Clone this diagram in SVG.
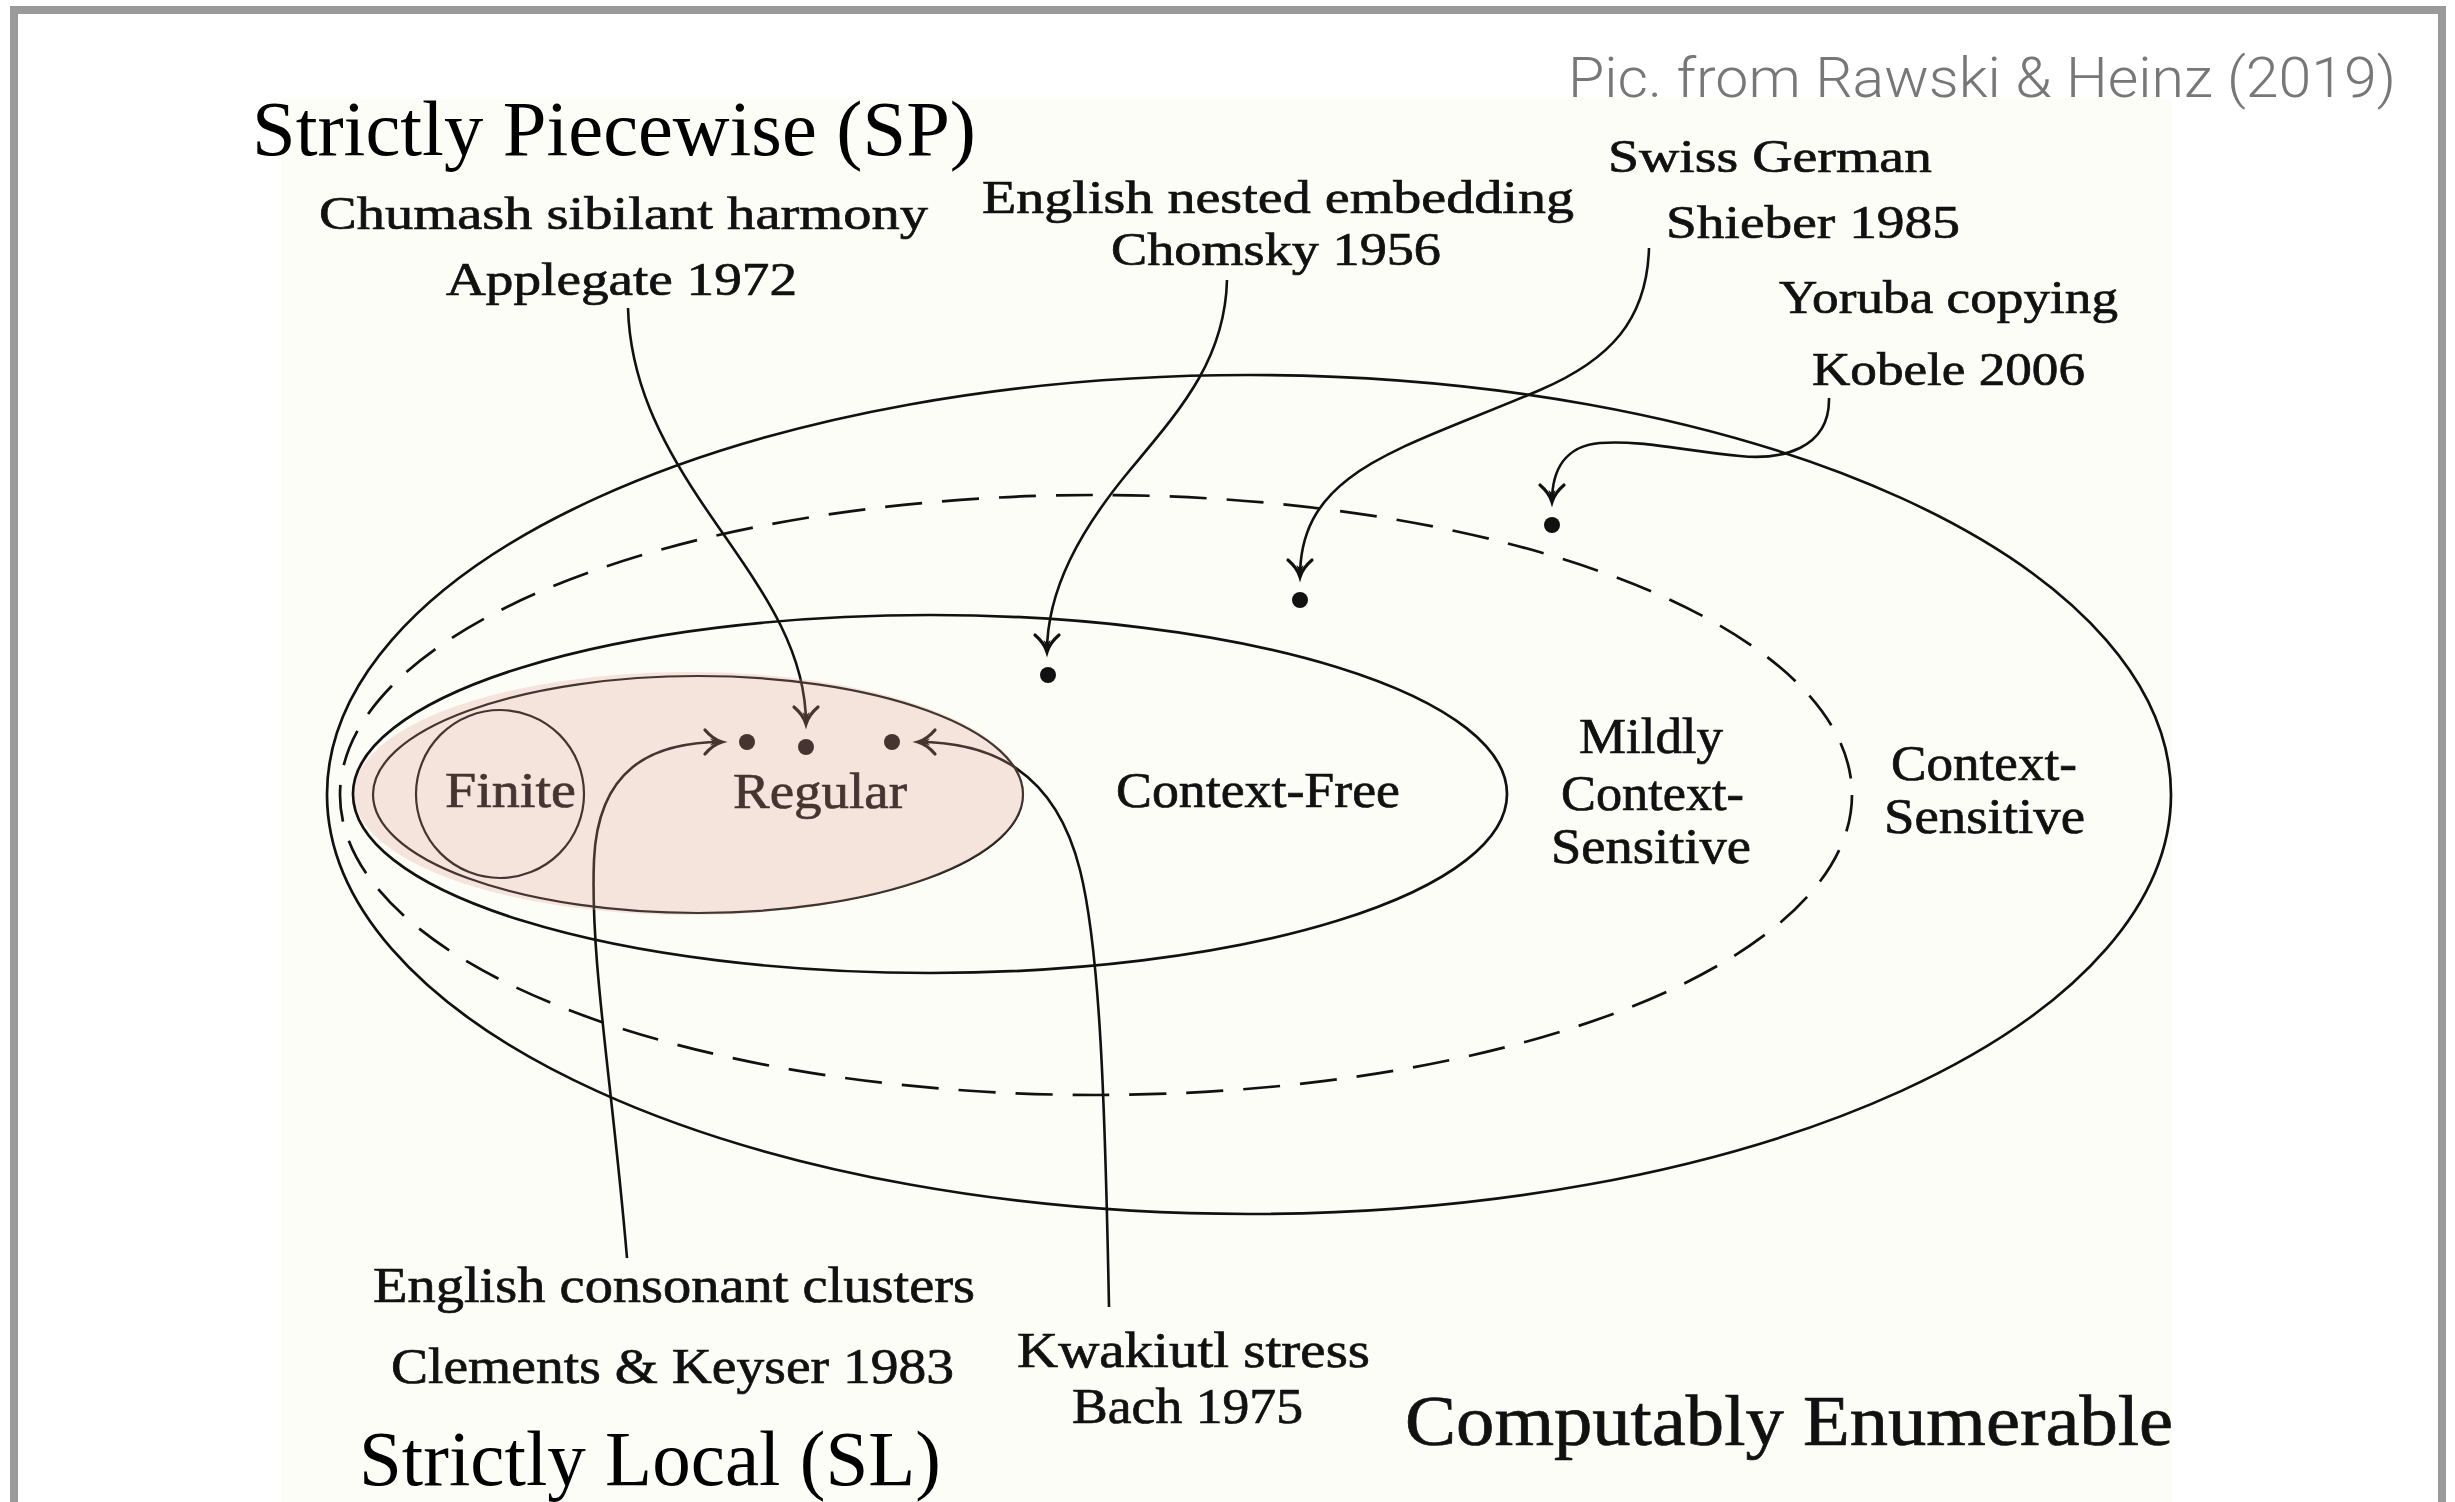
<svg xmlns="http://www.w3.org/2000/svg" width="2455" height="1502" viewBox="0 0 2455 1502">
  <style>
    .cm { font-family: "Liberation Serif", "Times New Roman", serif; fill: #111; stroke: #111; stroke-width: 0.7; }
    .lbl { font-size: 47px; }
    .cls { font-size: 50px; }
    .big { font-family: "Liberation Serif", "Times New Roman", serif; font-size: 78px; fill: #000; }
    .src { font-family: Roboto, "Liberation Sans", Arial, sans-serif; font-weight: 300; font-size: 56px; fill: #777777; }
    .set { fill: none; stroke: #111; stroke-width: 2.7; }
    .thin { fill: none; stroke: #111; stroke-width: 2.2; }
    .dash { stroke-dasharray: 37 20; }
    .arrow { fill: none; stroke: #111; stroke-width: 2.6; marker-end: url(#tip); }
    .dot { fill: #111; }
  </style>
  <defs>
    <marker id="tip" markerUnits="userSpaceOnUse" viewBox="-20 -16 24 32" markerWidth="24" markerHeight="32" refX="0" refY="0" orient="auto" overflow="visible">
      <path d="M -17,-12 C -11,-5 -5,-1.5 0,0 C -5,1.5 -11,5 -17,12" fill="none" stroke="#111" stroke-width="3.2" stroke-linecap="round"/>
      <path d="M -9,0 L -12,-3.5 L 0,0 L -12,3.5 Z" fill="#111"/>
    </marker>
  </defs>

  <!-- page frame and figure background -->
  <rect x="14" y="10" width="2428" height="1520" fill="#ffffff" stroke="#9a9a9a" stroke-width="8"/>
  <rect x="281" y="98" width="1891" height="1404" fill="#fdfdf7"/>

  <text class="src" x="1568" y="97" textLength="828" lengthAdjust="spacingAndGlyphs">Pic. from Rawski &amp; Heinz (2019)</text>

  <!-- language classes -->
  <g id="computably-enumerable">
    <text class="cm" x="1405" y="1445" font-size="71" textLength="768" lengthAdjust="spacingAndGlyphs">Computably Enumerable</text>
  </g>
  <g id="context-sensitive">
    <ellipse class="set" cx="1249" cy="794.5" rx="922" ry="419.5"/>
    <text class="cm cls" x="1891" y="780" textLength="186" lengthAdjust="spacingAndGlyphs">Context-</text>
    <text class="cm cls" x="1884" y="833" textLength="201" lengthAdjust="spacingAndGlyphs">Sensitive</text>
  </g>
  <g id="mildly-context-sensitive">
    <ellipse class="set dash" cx="1096" cy="795" rx="756" ry="300"/>
    <text class="cm cls" x="1579" y="753" textLength="144" lengthAdjust="spacingAndGlyphs">Mildly</text>
    <text class="cm cls" x="1561" y="810" textLength="183" lengthAdjust="spacingAndGlyphs">Context-</text>
    <text class="cm cls" x="1551" y="863" textLength="200" lengthAdjust="spacingAndGlyphs">Sensitive</text>
  </g>
  <g id="context-free">
    <ellipse class="set" cx="930" cy="794" rx="577" ry="179"/>
    <text class="cm cls" x="1116" y="807" textLength="284" lengthAdjust="spacingAndGlyphs">Context-Free</text>
  </g>
  <g id="regular">
    <ellipse class="thin" cx="698" cy="794.5" rx="325" ry="118.5"/>
    <text class="cm cls" x="733" y="808" textLength="174" lengthAdjust="spacingAndGlyphs">Regular</text>
  </g>
  <g id="finite">
    <circle class="thin" cx="500" cy="794" r="84"/>
    <text class="cm cls" x="445" y="807" textLength="131" lengthAdjust="spacingAndGlyphs">Finite</text>
  </g>

  <!-- example languages: labels and dots -->
  <g id="chumash">
    <text class="cm lbl" x="319" y="229" textLength="609" lengthAdjust="spacingAndGlyphs">Chumash sibilant harmony</text>
    <text class="cm lbl" x="446" y="295" textLength="351" lengthAdjust="spacingAndGlyphs">Applegate 1972</text>
    <circle class="dot" cx="806" cy="747" r="8"/>
  </g>
  <g id="english-nested">
    <text class="cm lbl" x="982" y="213" textLength="592" lengthAdjust="spacingAndGlyphs">English nested embedding</text>
    <text class="cm lbl" x="1111" y="265" textLength="330" lengthAdjust="spacingAndGlyphs">Chomsky 1956</text>
    <circle class="dot" cx="1048" cy="675" r="8"/>
  </g>
  <g id="swiss-german">
    <text class="cm lbl" x="1608" y="172" textLength="324" lengthAdjust="spacingAndGlyphs">Swiss German</text>
    <text class="cm lbl" x="1666" y="238" textLength="294" lengthAdjust="spacingAndGlyphs">Shieber 1985</text>
    <circle class="dot" cx="1300" cy="600" r="8"/>
  </g>
  <g id="yoruba">
    <text class="cm lbl" x="1779" y="313" textLength="339" lengthAdjust="spacingAndGlyphs">Yoruba copying</text>
    <text class="cm lbl" x="1812" y="385" textLength="273" lengthAdjust="spacingAndGlyphs">Kobele 2006</text>
    <circle class="dot" cx="1552" cy="525" r="8"/>
  </g>
  <g id="english-clusters">
    <text class="cm cls" x="373" y="1302" textLength="602" lengthAdjust="spacingAndGlyphs">English consonant clusters</text>
    <text class="cm cls" x="391" y="1383" textLength="563" lengthAdjust="spacingAndGlyphs">Clements &amp; Keyser 1983</text>
    <circle class="dot" cx="747" cy="742" r="8"/>
  </g>
  <g id="kwakiutl">
    <text class="cm cls" x="1017" y="1367" textLength="353" lengthAdjust="spacingAndGlyphs">Kwakiutl stress</text>
    <text class="cm cls" x="1072" y="1423" textLength="231" lengthAdjust="spacingAndGlyphs">Bach 1975</text>
    <circle class="dot" cx="892" cy="742" r="8"/>
  </g>

  <!-- connectors -->
  <g id="connectors">
    <path class="arrow" d="M 628,308 C 630,380 660,440 700,500 C 750,575 806,640 806,724"/>
    <path class="arrow" d="M 1227,280 C 1225,360 1180,410 1130,470 C 1080,530 1047,590 1047,652"/>
    <path class="arrow" d="M 1649,248 C 1647,320 1610,360 1540,390 C 1400,450 1300,470 1300,577"/>
    <path class="arrow" d="M 1829,398 C 1830,450 1780,460 1740,456 C 1680,450 1640,440 1600,443 C 1565,446 1552,470 1552,502"/>
    <path class="arrow" d="M 627,1258 C 612,1080 590,960 594,860 C 598,770 650,742 722,742"/>
    <path class="arrow" d="M 1109,1307 C 1105,1100 1100,950 1080,870 C 1055,770 990,742 918,742"/>
  </g>

  <!-- tinted region over the finite and regular classes -->
  <g id="sl-sp-region">
    <ellipse cx="689" cy="793.5" rx="335" ry="121.5" fill="rgb(222,160,138)" fill-opacity="0.26"/>
  </g>

  <!-- subregular class names -->
  <g id="strictly-piecewise">
    <text class="big" x="252" y="155" textLength="724" lengthAdjust="spacingAndGlyphs">Strictly Piecewise (SP)</text>
  </g>
  <g id="strictly-local">
    <text class="big" x="359" y="1485" textLength="582" lengthAdjust="spacingAndGlyphs">Strictly Local (SL)</text>
  </g>
</svg>
